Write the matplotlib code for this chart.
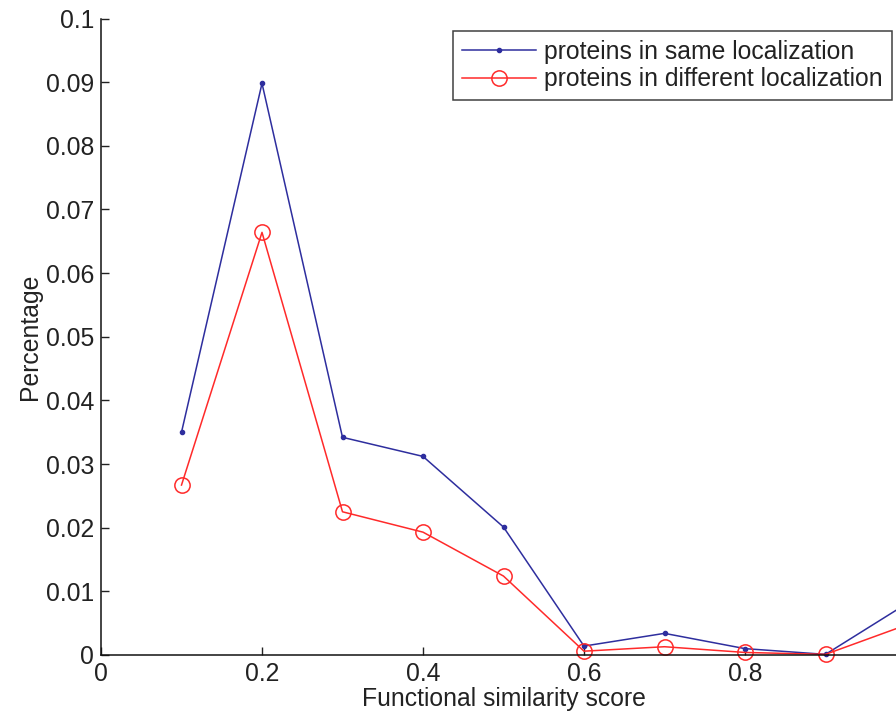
import numpy as np
import matplotlib.pyplot as plt

plt.rcParams['font.family'] = ['Liberation Sans', 'DejaVu Sans']

# 数据
score = [0.1, 0.2, 0.3, 0.4, 0.5, 0.6, 0.7, 0.8, 0.9, 1.0]
same_loc = [0.0350, 0.0898, 0.0342, 0.0312, 0.0201, 0.0014, 0.0034, 0.0010, 0.0001, 0.0080]
diff_loc = [0.0267, 0.0664, 0.0225, 0.0193, 0.0124, 0.0006, 0.0013, 0.0004, 0.0001, 0.0047]
# the tick at 1 lies off the cropped picture
xticks = [0, 0.2, 0.4, 0.6, 0.8]
yticks = [0, 0.01, 0.02, 0.03, 0.04, 0.05, 0.06, 0.07, 0.08, 0.09, 0.1]

W, H = 896, 720
fs = 17.8
fig = plt.figure(figsize=(W / 100, H / 100), dpi=100)
# axes runs past the right edge of the figure (cropped like the original)
ax = fig.add_axes([101 / W, (H - 655) / H, 805 / W, (655 - 18.5) / H])

ax.plot(score, same_loc, color='#2e2e9e', lw=1.1, marker='.', markersize=6,
        label='proteins in same localization', clip_on=False)
ax.plot(score, diff_loc, color='#ff2a2a', lw=1.1, marker='o', markersize=11,
        markerfacecolor='none', markeredgewidth=1.1,
        label='proteins in different localization', clip_on=False)

ax.set_xlim(0, 1)
ax.set_ylim(0, 0.1)
ax.set_xticks(xticks)
ax.set_xticklabels(['0', '0.2', '0.4', '0.6', '0.8'])
ax.set_yticks(yticks)
ax.set_yticklabels(['0', '0.01', '0.02', '0.03', '0.04', '0.05', '0.06',
                    '0.07', '0.08', '0.09', '0.1'])
ax.tick_params(direction='in', length=6, width=1, labelsize=fs, colors='#222222',
               pad=5)
for s in ['top', 'right']:
    ax.spines[s].set_visible(False)
for s in ['left', 'bottom']:
    ax.spines[s].set_linewidth(1.1)
    ax.spines[s].set_color('#111111')

ax.set_xlabel('Functional similarity score', fontsize=fs, color='#222222', labelpad=1)
ax.set_ylabel('Percentage', fontsize=fs, color='#222222', labelpad=3)

leg = ax.legend(loc='upper left', bbox_to_anchor=(453 / W, 1 - 31 / H),
                bbox_transform=fig.transFigure, fontsize=fs, frameon=True,
                fancybox=False, borderaxespad=0, handlelength=3.0,
                borderpad=0.35, labelspacing=0.15, handletextpad=0.35)
leg.get_frame().set_edgecolor('#111111')
leg.get_frame().set_linewidth(1.1)
for t in leg.get_texts():
    t.set_color('#222222')

fig.savefig('out.png', dpi=100)
